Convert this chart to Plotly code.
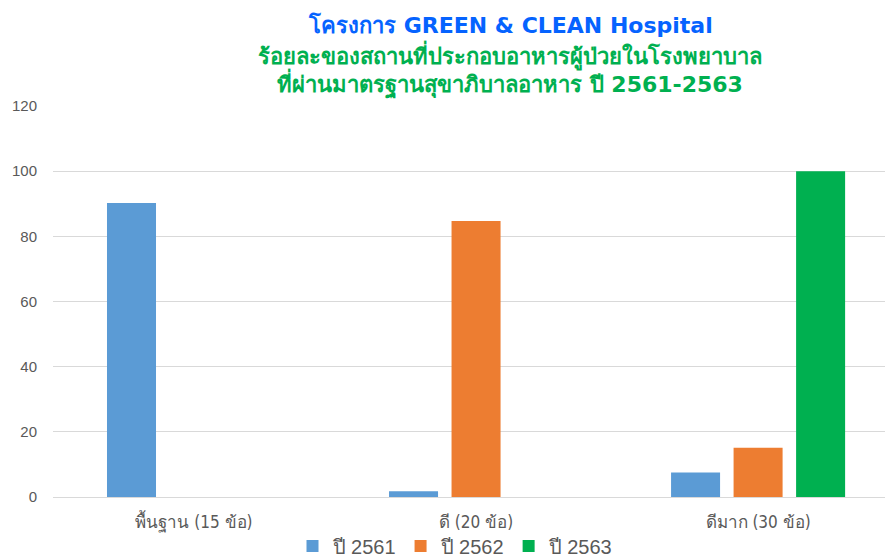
import plotly.graph_objects as go

categories = ["พื้นฐาน (15 ข้อ)", "ดี (20 ข้อ)", "ดีมาก (30 ข้อ)"]
series_names = ["ปี 2561", "ปี 2562", "ปี 2563"]
values_2561 = [90.2, 1.8, 7.5]
values_2562 = [0, 84.7, 15.1]
values_2563 = [0, 0, 100]
colors = ["#5B9BD5", "#ED7D31", "#00B050"]
y_ticks = [0, 20, 40, 60, 80, 100, 120]
title_lines = ["โครงการ GREEN &amp; CLEAN Hospital",
               "ร้อยละของสถานที่ประกอบอาหารผู้ป่วยในโรงพยาบาล",
               "ที่ผ่านมาตรฐานสุขาภิบาลอาหาร ปี 2561-2563"]
title_colors = ["#0563FF", "#00B050", "#00B050"]

W, H = 885, 559
ML, MR, MT, MB = 53, 0, 106, 62

fig = go.Figure()
for name, vals, col in zip(series_names, [values_2561, values_2562, values_2563], colors):
    fig.add_trace(go.Bar(
        x=categories, y=vals, name=name,
        marker=dict(color=col, line=dict(width=0)),
    ))

title_y_px = [25, 55, 83]
for txt, col, ypx in zip(title_lines, title_colors, title_y_px):
    fig.add_annotation(text="<b>" + txt + "</b>", xref="paper", yref="paper",
                       x=(510 - ML) / (W - ML - MR), y=(H - MB - ypx) / (H - MT - MB),
                       xanchor="center", yanchor="middle", showarrow=False,
                       font=dict(size=22, color=col, family="Tahoma, DejaVu Sans, sans-serif"))

fig.update_layout(
    width=W, height=H,
    margin=dict(l=ML, r=MR, t=MT, b=MB, autoexpand=False),
    paper_bgcolor="white", plot_bgcolor="white",
    font=dict(family="Tahoma, DejaVu Sans, sans-serif", color="#595959"),
    barmode="group", bargap=0.335, bargroupgap=0.216,
    showlegend=True,
    legend=dict(orientation="h", x=(455 - ML) / (W - ML - MR), xanchor="center",
                y=(H - MB - 546) / (H - MT - MB), yanchor="middle",
                bgcolor="rgba(0,0,0,0)",
                font=dict(size=20, color="#595959", family="Liberation Sans, Arial, sans-serif"),
                traceorder="normal", itemwidth=30, tracegroupgap=0),
    xaxis=dict(range=[-0.5, 2.45], showgrid=False, showline=True, linecolor="#D9D9D9",
               automargin=False, ticks="",
               tickfont=dict(size=17, color="#595959", family="Liberation Sans Narrow, DejaVu Sans Condensed, sans-serif"),
               ticklabelstandoff=10),
    yaxis=dict(range=[0, 120], tickvals=y_ticks, showgrid=True, gridcolor="#D9D9D9",
               zeroline=False, showline=False, ticks="", automargin=False,
               tickfont=dict(size=15, color="#595959", family="Liberation Sans, Arial, sans-serif"),
               ticklabelstandoff=15),
)

fig.write_html("out.html", config={"displayModeBar": False},
               post_script="document.body.style.margin='0';")
